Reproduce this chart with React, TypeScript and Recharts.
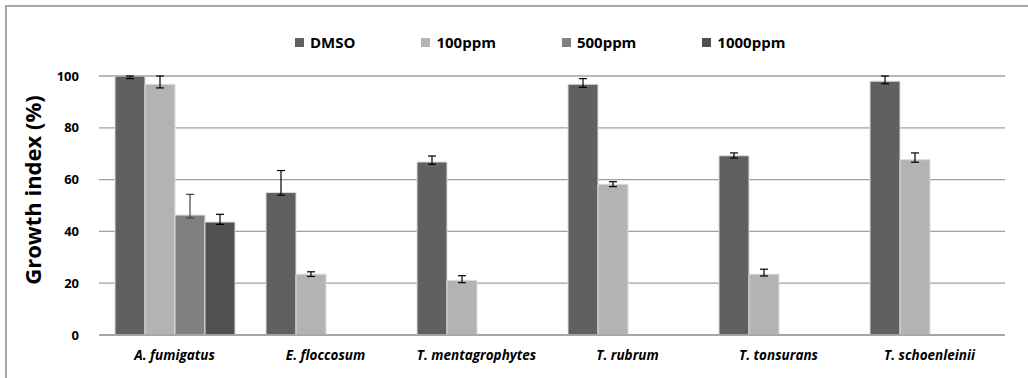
import React from "react";
import { BarChart, Bar, XAxis, YAxis, CartesianGrid, ErrorBar, Label } from "recharts";

const species = ["A. fumigatus", "E. floccosum", "T. mentagrophytes", "T. rubrum", "T. tonsurans", "T. schoenleinii"];

const dmso = [100, 55, 66.8, 96.8, 69.2, 98];
const dmsoErr = [[1, 0], [1, 8.5], [0.9, 2.3], [1.2, 2.2], [0.9, 1.1], [1, 2]];

const ppm100 = [96.8, 23.5, 21.1, 58.2, 23.5, 67.7];
const ppm100Err = [[1.4, 3.2], [0.9, 0.9], [0.9, 1.8], [0.9, 1], [0.7, 1.9], [1, 2.6]];

const ppm500 = [46.3, null, null, null, null, null];
const ppm500Err = [[1.1, 8], null, null, null, null, null];

const ppm1000 = [43.6, null, null, null, null, null];
const ppm1000Err = [[0.9, 3], null, null, null, null, null];

const yTicks = [0, 20, 40, 60, 80, 100];

const series = [
  { key: "dmso", name: "DMSO", color: "#606060", errColor: "#000" },
  { key: "p100", name: "100ppm", color: "#b3b3b3", errColor: "#000" },
  { key: "p500", name: "500ppm", color: "#808080", errColor: "#404040" },
  { key: "p1000", name: "1000ppm", color: "#505050", errColor: "#000" },
];

const data = species.map((name, i) => ({
  name,
  dmso: dmso[i],
  dmsoErr: dmsoErr[i],
  p100: ppm100[i],
  p100Err: ppm100Err[i],
  p500: ppm500[i],
  p500Err: ppm500Err[i],
  p1000: ppm1000[i],
  p1000Err: ppm1000Err[i],
}));

const font = "'Open Sans', sans-serif";

function ChartLegend() {
  return (
    <div
      style={{
        position: "absolute",
        left: 295,
        top: 32,
        display: "flex",
        fontFamily: font,
        fontWeight: "bold",
        fontSize: 15,
        color: "#000",
        lineHeight: "20px",
      }}
    >
      {series.map((s) => (
        <div key={s.key} style={{ display: "flex", alignItems: "center", marginRight: 66 }}>
          <span style={{ width: 9, height: 9, background: s.color, marginRight: 6, display: "inline-block" }} />
          <span>{s.name}</span>
        </div>
      ))}
    </div>
  );
}

export default function App() {
  return (
    <div style={{ position: "absolute", left: 0, top: 0, width: 1028, height: 378, background: "#fff", overflow: "hidden" }}>
      <div
        style={{
          position: "absolute",
          left: 5,
          top: 5,
          width: 1030,
          height: 380,
          borderTop: "2px solid #a6a6a6",
          borderLeft: "2px solid #a6a6a6",
        }}
      />
      <div style={{ position: "absolute", left: 0, top: 0 }}>
        <BarChart
          width={1028}
          height={378}
          data={data}
          margin={{ top: 76, right: 23, left: 0, bottom: 13 }}
          barSize={30}
          barGap={0}
        >
          <CartesianGrid vertical={false} stroke="#a0a0a0" strokeWidth={1.3} />
          <XAxis
            dataKey="name"
            axisLine={{ stroke: "#a0a0a0", strokeWidth: 1.3 }}
            tickLine={false}
            tickSize={0}
            tickMargin={15}
            height={30}
            interval={0}
            tick={{ fontFamily: font, fontSize: 13.5, fontStyle: "italic", fontWeight: "bold", fill: "#000" }}
          />
          <YAxis
            domain={[0, 100]}
            allowDataOverflow
            ticks={yTicks}
            width={99}
            axisLine={false}
            tickLine={false}
            tickMargin={14}
            tick={{ fontFamily: font, fontSize: 13, fontWeight: "bold", fill: "#000" }}
          >
            <Label
              content={() => (
                <text
                  x={32}
                  y={190}
                  transform="rotate(-90 32 190)"
                  textAnchor="middle"
                  dominantBaseline="central"
                  fontFamily={font}
                  fontSize={22}
                  fontWeight="bold"
                  fill="#000"
                >
                  Growth index (%)
                </text>
              )}
            />
          </YAxis>
          {series.map((s) => (
            <Bar
              key={s.key}
              dataKey={s.key}
              name={s.name}
              fill={s.color}
              stroke="#dcdcdc"
              strokeWidth={1}
              isAnimationActive={false}
            >
              <ErrorBar dataKey={s.key + "Err"} width={4} stroke={s.errColor} strokeWidth={1.2} direction="y" />
            </Bar>
          ))}
        </BarChart>
      </div>
      <ChartLegend />
    </div>
  );
}
